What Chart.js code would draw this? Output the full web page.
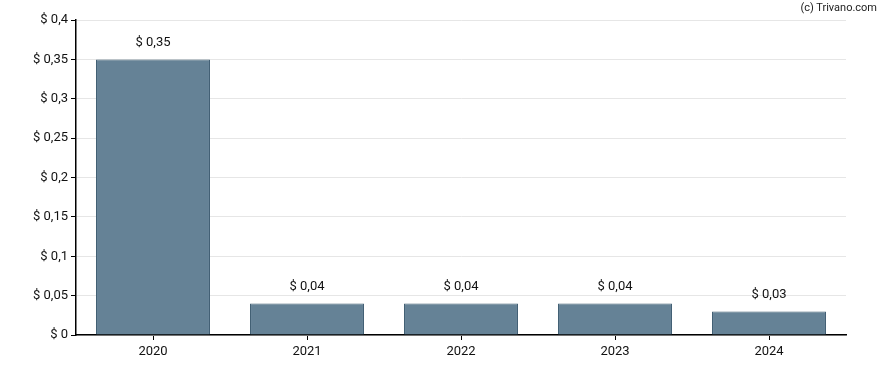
<!DOCTYPE html>
<html>
<head>
<meta charset="utf-8">
<script src="https://cdn.jsdelivr.net/npm/chart.js@4.4.0/dist/chart.umd.min.js"></script>
<style>
  html, body { margin: 0; padding: 0; background: #fff; }
  #wrap { position: relative; width: 888px; height: 370px; }
  #note { position: absolute; right: 11px; top: 1px; font: 11px Roboto, sans-serif; color: #222; }
</style>
</head>
<body>
<div id="wrap">
  <canvas id="graph" width="888" height="370"></canvas>
  <div id="note">(c) Trivano.com</div>
</div>
<script>
/// data ///
const years = ['2020', '2021', '2022', '2023', '2024']
const dividends = [0.35, 0.04, 0.04, 0.04, 0.03]
const yTicks = [0, 0.05, 0.1, 0.15, 0.2, 0.25, 0.3, 0.35, 0.4]

function money(v) {
  return '$ ' + String(v).replace('.', ',')
}

/// value labels over the bars ///
const barLabels = {
  id: 'barLabels',
  afterDatasetsDraw(chart) {
    const ctx = chart.ctx
    const meta = chart.getDatasetMeta(0)
    ctx.save()
    ctx.font = '13px Roboto, sans-serif'
    ctx.fillStyle = '#111'
    ctx.textAlign = 'center'
    ctx.textBaseline = 'middle'
    meta.data.forEach((bar, i) => {
      ctx.fillText(money(dividends[i]), bar.x, bar.y - 17)
    })
    ctx.restore()
  }
}

const ctx = document.getElementById('graph').getContext('2d')
new Chart(ctx, {
  type: 'bar',
  data: {
    labels: years,
    datasets: [{
      data: dividends,
      backgroundColor: '#658296',
      borderColor: '#3f5d72',
      borderWidth: 1,
      barPercentage: 0.74,
      categoryPercentage: 1
    }]
  },
  options: {
    responsive: false,
    animation: false,
    layout: { padding: { left: 0, right: 42, top: 20, bottom: 0 } },
    plugins: { legend: { display: false }, tooltip: { enabled: false } },
    scales: {
      x: {
        grid: { display: true, drawOnChartArea: false, offset: false, color: '#000', tickLength: 5 },
        border: { color: '#000', width: 1.5 },
        ticks: { color: '#111', font: { family: 'Roboto', size: 13 }, padding: 4 },
        afterFit(scale) { scale.height = 35 }
      },
      y: {
        min: 0,
        max: 0.4,
        afterBuildTicks(scale) { scale.ticks = yTicks.map(v => ({ value: v })) },
        grid: { color: '#e6e6e6', tickColor: '#000', tickLength: 5 },
        border: { color: '#000', width: 1.5 },
        ticks: { color: '#111', font: { family: 'Roboto', size: 13 }, padding: 3, callback: v => money(v) },
        afterFit(scale) { scale.width = 76 }
      }
    }
  },
  plugins: [barLabels]
})
</script>
</body>
</html>
